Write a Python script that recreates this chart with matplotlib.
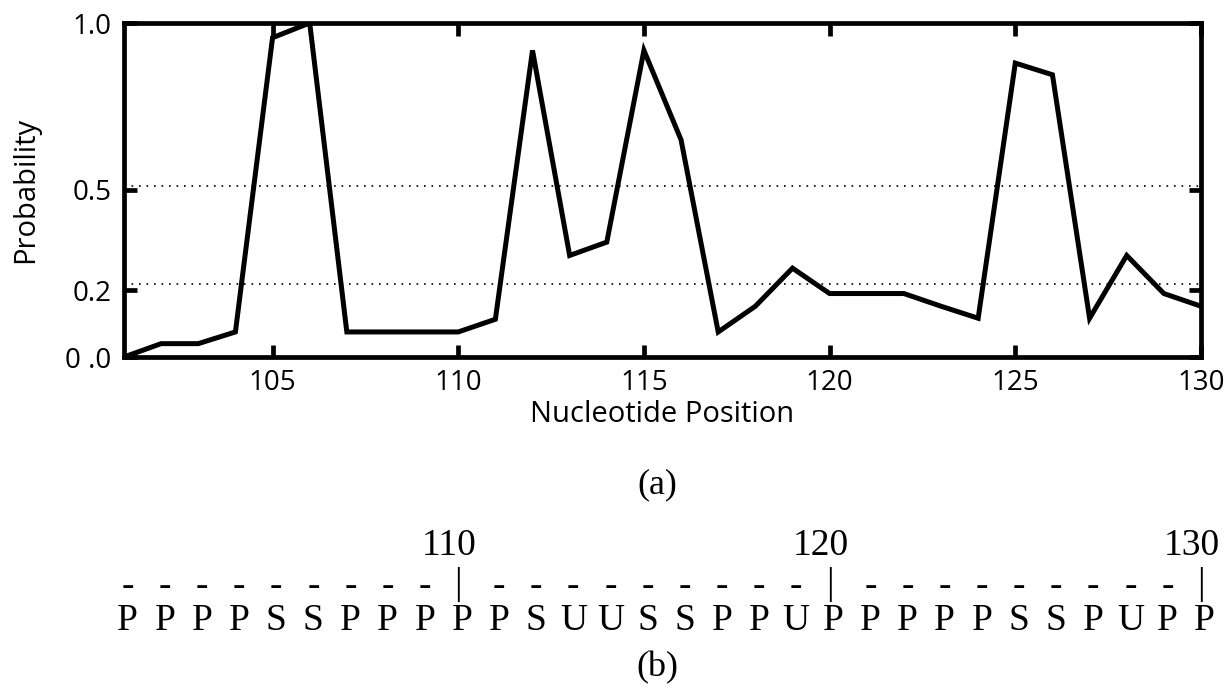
import matplotlib
matplotlib.use('Agg')
import matplotlib.pyplot as plt

# panel (a): probability per nucleotide position
positions = list(range(101, 131))
probability = [0.0, 0.04, 0.04, 0.075, 0.956, 1.0, 0.075, 0.075, 0.075, 0.075,
               0.113, 0.918, 0.304, 0.344, 0.918, 0.65, 0.075, 0.152, 0.266, 0.19,
               0.19, 0.19, 0.152, 0.116, 0.88, 0.845, 0.116, 0.304, 0.19, 0.152]
x_ticks = [105, 110, 115, 120, 125, 130]
y_ticks = [0.0, 0.2, 0.5, 1.0]
y_tick_labels = ['0 .0', '0.2', '0.5', '1.0']
threshold_levels = [0.513, 0.219]

# panel (b): structure letters
structure = list('PPPPSSPPPPPSUUSSPPUPPPPPSSPUPP')
marker_positions = [110, 120, 130]

W, H = 1226, 690
fig = plt.figure(figsize=(W / 100, H / 100), dpi=100)

sans = ['Open Sans', 'DejaVu Sans']
serif = ['Liberation Serif', 'DejaVu Serif']

left, right = 124 / W, 1201 / W
ax = fig.add_axes([left, 1 - 357 / H, right - left, (357 - 23) / H])
ax.plot(positions, probability, color='black', lw=3.6, solid_joinstyle='miter')
for lvl in threshold_levels:
    ax.axhline(lvl, color='black', ls=(0, (1, 3.5)), lw=1.2)
ax.set_xlim(101, 130)
ax.set_ylim(0, 1)
ax.set_xticks(x_ticks)
ax.set_yticks(y_ticks)
ax.set_yticklabels(y_tick_labels)
ax.tick_params(direction='in', length=9, width=3.4, top=True, right=True,
               labelsize=20, pad=9)
for lab in ax.get_xticklabels() + ax.get_yticklabels():
    lab.set_family(sans)
for s in ax.spines.values():
    s.set_linewidth(3.4)
ax.set_xlabel('Nucleotide Position', fontsize=21, family=sans, labelpad=2)
ax.set_ylabel('Probability', fontsize=21, family=sans, labelpad=18)

# lower overlay for captions and the sequence line (y in pixels from top)
ax2 = fig.add_axes([left, 0, right - left, 1])
ax2.set_xlim(101, 130)
ax2.set_ylim(H, 0)
ax2.axis('off')

mid = (101 + 130) / 2 - 0.15
ax2.text(mid, 485, '(a)', family=serif, fontsize=26, ha='center', va='center')
ax2.text(mid, 668, '(b)', family=serif, fontsize=26, ha='center', va='center')

for p, ch in zip(positions, structure):
    ax2.text(p + 0.1, 621, ch, family=serif, fontsize=27, ha='center', va='center')
    if p in marker_positions:
        ax2.text(p, 585, '|', family=serif, fontsize=27, ha='center', va='center')
        ax2.text(p - 0.25, 546, str(p), family=serif, fontsize=27, ha='center', va='center')
    else:
        ax2.text(p + 0.1, 587, '-', family=serif, fontsize=27, ha='center', va='center')

fig.savefig('out.png', dpi=100)
